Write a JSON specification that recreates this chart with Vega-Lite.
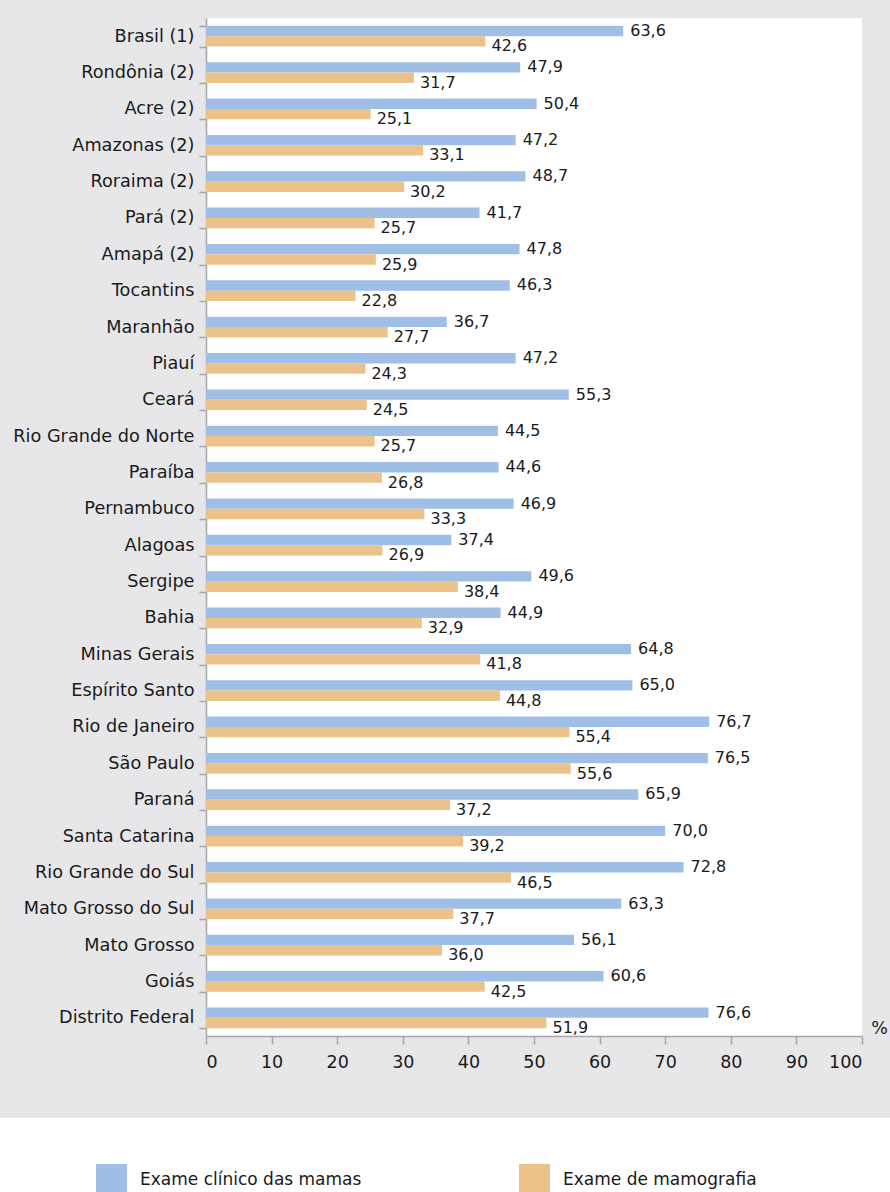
{
  "$schema": "https://vega.github.io/schema/vega-lite/v6.json",
  "background": "#e7e7e9",
  "padding": {"top": 9, "left": 0, "right": 0, "bottom": 0},
  "config": {
    "locale": {"number": {"decimal": ",", "thousands": ".", "grouping": [3], "currency": ["R$", ""]}},
    "font": "DejaVu Sans",
    "view": {"stroke": null}
  },
  "datasets": {
    "dados": [
      {"uf": "Brasil (1)", "exame": "Exame clínico das mamas", "pct": 63.6},
      {"uf": "Brasil (1)", "exame": "Exame de mamografia", "pct": 42.6},
      {"uf": "Rondônia (2)", "exame": "Exame clínico das mamas", "pct": 47.9},
      {"uf": "Rondônia (2)", "exame": "Exame de mamografia", "pct": 31.7},
      {"uf": "Acre (2)", "exame": "Exame clínico das mamas", "pct": 50.4},
      {"uf": "Acre (2)", "exame": "Exame de mamografia", "pct": 25.1},
      {"uf": "Amazonas (2)", "exame": "Exame clínico das mamas", "pct": 47.2},
      {"uf": "Amazonas (2)", "exame": "Exame de mamografia", "pct": 33.1},
      {"uf": "Roraima (2)", "exame": "Exame clínico das mamas", "pct": 48.7},
      {"uf": "Roraima (2)", "exame": "Exame de mamografia", "pct": 30.2},
      {"uf": "Pará (2)", "exame": "Exame clínico das mamas", "pct": 41.7},
      {"uf": "Pará (2)", "exame": "Exame de mamografia", "pct": 25.7},
      {"uf": "Amapá (2)", "exame": "Exame clínico das mamas", "pct": 47.8},
      {"uf": "Amapá (2)", "exame": "Exame de mamografia", "pct": 25.9},
      {"uf": "Tocantins", "exame": "Exame clínico das mamas", "pct": 46.3},
      {"uf": "Tocantins", "exame": "Exame de mamografia", "pct": 22.8},
      {"uf": "Maranhão", "exame": "Exame clínico das mamas", "pct": 36.7},
      {"uf": "Maranhão", "exame": "Exame de mamografia", "pct": 27.7},
      {"uf": "Piauí", "exame": "Exame clínico das mamas", "pct": 47.2},
      {"uf": "Piauí", "exame": "Exame de mamografia", "pct": 24.3},
      {"uf": "Ceará", "exame": "Exame clínico das mamas", "pct": 55.3},
      {"uf": "Ceará", "exame": "Exame de mamografia", "pct": 24.5},
      {"uf": "Rio Grande do Norte", "exame": "Exame clínico das mamas", "pct": 44.5},
      {"uf": "Rio Grande do Norte", "exame": "Exame de mamografia", "pct": 25.7},
      {"uf": "Paraíba", "exame": "Exame clínico das mamas", "pct": 44.6},
      {"uf": "Paraíba", "exame": "Exame de mamografia", "pct": 26.8},
      {"uf": "Pernambuco", "exame": "Exame clínico das mamas", "pct": 46.9},
      {"uf": "Pernambuco", "exame": "Exame de mamografia", "pct": 33.3},
      {"uf": "Alagoas", "exame": "Exame clínico das mamas", "pct": 37.4},
      {"uf": "Alagoas", "exame": "Exame de mamografia", "pct": 26.9},
      {"uf": "Sergipe", "exame": "Exame clínico das mamas", "pct": 49.6},
      {"uf": "Sergipe", "exame": "Exame de mamografia", "pct": 38.4},
      {"uf": "Bahia", "exame": "Exame clínico das mamas", "pct": 44.9},
      {"uf": "Bahia", "exame": "Exame de mamografia", "pct": 32.9},
      {"uf": "Minas Gerais", "exame": "Exame clínico das mamas", "pct": 64.8},
      {"uf": "Minas Gerais", "exame": "Exame de mamografia", "pct": 41.8},
      {"uf": "Espírito Santo", "exame": "Exame clínico das mamas", "pct": 65.0},
      {"uf": "Espírito Santo", "exame": "Exame de mamografia", "pct": 44.8},
      {"uf": "Rio de Janeiro", "exame": "Exame clínico das mamas", "pct": 76.7},
      {"uf": "Rio de Janeiro", "exame": "Exame de mamografia", "pct": 55.4},
      {"uf": "São Paulo", "exame": "Exame clínico das mamas", "pct": 76.5},
      {"uf": "São Paulo", "exame": "Exame de mamografia", "pct": 55.6},
      {"uf": "Paraná", "exame": "Exame clínico das mamas", "pct": 65.9},
      {"uf": "Paraná", "exame": "Exame de mamografia", "pct": 37.2},
      {"uf": "Santa Catarina", "exame": "Exame clínico das mamas", "pct": 70.0},
      {"uf": "Santa Catarina", "exame": "Exame de mamografia", "pct": 39.2},
      {"uf": "Rio Grande do Sul", "exame": "Exame clínico das mamas", "pct": 72.8},
      {"uf": "Rio Grande do Sul", "exame": "Exame de mamografia", "pct": 46.5},
      {"uf": "Mato Grosso do Sul", "exame": "Exame clínico das mamas", "pct": 63.3},
      {"uf": "Mato Grosso do Sul", "exame": "Exame de mamografia", "pct": 37.7},
      {"uf": "Mato Grosso", "exame": "Exame clínico das mamas", "pct": 56.1},
      {"uf": "Mato Grosso", "exame": "Exame de mamografia", "pct": 36.0},
      {"uf": "Goiás", "exame": "Exame clínico das mamas", "pct": 60.6},
      {"uf": "Goiás", "exame": "Exame de mamografia", "pct": 42.5},
      {"uf": "Distrito Federal", "exame": "Exame clínico das mamas", "pct": 76.6},
      {"uf": "Distrito Federal", "exame": "Exame de mamografia", "pct": 51.9}
    ]
  },
  "vconcat": [
    {
      "width": 656,
      "height": 1018,
      "view": {"fill": "white", "stroke": null},
      "data": {"name": "dados"},
      "encoding": {
        "y": {
          "field": "uf",
          "type": "nominal",
          "sort": ["Brasil (1)", "Rondônia (2)", "Acre (2)", "Amazonas (2)", "Roraima (2)", "Pará (2)", "Amapá (2)", "Tocantins", "Maranhão", "Piauí", "Ceará", "Rio Grande do Norte", "Paraíba", "Pernambuco", "Alagoas", "Sergipe", "Bahia", "Minas Gerais", "Espírito Santo", "Rio de Janeiro", "São Paulo", "Paraná", "Santa Catarina", "Rio Grande do Sul", "Mato Grosso do Sul", "Mato Grosso", "Goiás", "Distrito Federal"],
          "scale": {"paddingInner": 0.43, "paddingOuter": 0.215},
          "axis": {
            "title": null,
            "labelFontSize": 17.7,
            "labelColor": "#1a1a1a",
            "labelPadding": 5,
            "labelLimit": 300,
            "tickSize": 7,
            "tickWidth": 1.5,
            "tickColor": "#a6a6a6",
            "domainColor": "#a6a6a6",
            "domainWidth": 1.5,
            "tickBand": "extent",
            "minExtent": 206
          }
        },
        "yOffset": {
          "field": "exame",
          "type": "nominal",
          "sort": ["Exame clínico das mamas", "Exame de mamografia"],
          "scale": {"paddingInner": 0, "paddingOuter": 0}
        },
        "x": {
          "field": "pct",
          "type": "quantitative",
          "scale": {"domain": [0, 100], "nice": false},
          "axis": {
            "values": [0, 10, 20, 30, 40, 50, 60, 70, 80, 90, 100],
            "grid": false,
            "format": "d",
            "labelFontSize": 17.5,
            "labelColor": "#1a1a1a",
            "labelPadding": 9,
            "tickSize": 8,
            "tickWidth": 1.5,
            "tickColor": "#a6a6a6",
            "domainColor": "#a6a6a6",
            "domainWidth": 1.5,
            "title": "%",
            "titleFontSize": 17.5,
            "titleFontWeight": "normal",
            "titleColor": "#1a1a1a",
            "titleAlign": "center",
            "titleBaseline": "alphabetic",
            "titleX": 673,
            "titleY": -3
          }
        }
      },
      "layer": [
        {
          "mark": {"type": "bar"},
          "encoding": {
            "color": {
              "field": "exame",
              "type": "nominal",
              "scale": {"domain": ["Exame clínico das mamas", "Exame de mamografia"], "range": ["#9fbfe6", "#ebc38a"]},
              "legend": null
            }
          }
        },
        {
          "transform": [{"filter": "datum.exame === 'Exame clínico das mamas'"}],
          "mark": {"type": "text", "align": "left", "baseline": "middle", "dx": 7, "fontSize": 16, "color": "#1a1a1a"},
          "encoding": {"text": {"field": "pct", "type": "quantitative", "format": ".1f"}}
        },
        {
          "transform": [{"filter": "datum.exame === 'Exame de mamografia'"}],
          "mark": {"type": "text", "align": "left", "baseline": "middle", "dx": 6, "dy": 5, "fontSize": 16, "color": "#1a1a1a"},
          "encoding": {"text": {"field": "pct", "type": "quantitative", "format": ".1f"}}
        }
      ]
    },
    {
      "width": 684,
      "height": 74,
      "view": {"fill": "white", "stroke": null},
      "data": {"name": "dados"},
      "mark": {"type": "text"},
      "encoding": {
        "text": {"value": ""},
        "color": {
          "field": "exame",
          "type": "nominal",
          "scale": {"domain": ["Exame clínico das mamas", "Exame de mamografia"], "range": ["#9fbfe6", "#ebc38a"]},
          "legend": {
            "orient": "none",
            "legendX": -206,
            "legendY": 0,
            "direction": "horizontal",
            "title": " ",
            "titleOrient": "left",
            "titlePadding": 50,
            "titleFontSize": 17,
            "padding": 46,
            "fillColor": "white",
            "strokeColor": null,
            "symbolType": "square",
            "symbolSize": 961,
            "symbolStrokeWidth": 0,
            "symbolOpacity": 1,
            "labelFontSize": 17,
            "labelOffset": 13,
            "labelColor": "#1a1a1a",
            "labelLimit": 400,
            "columnPadding": 157
          }
        }
      }
    }
  ],
  "spacing": 47,
  "resolve": {"legend": {"color": "independent"}}
}
